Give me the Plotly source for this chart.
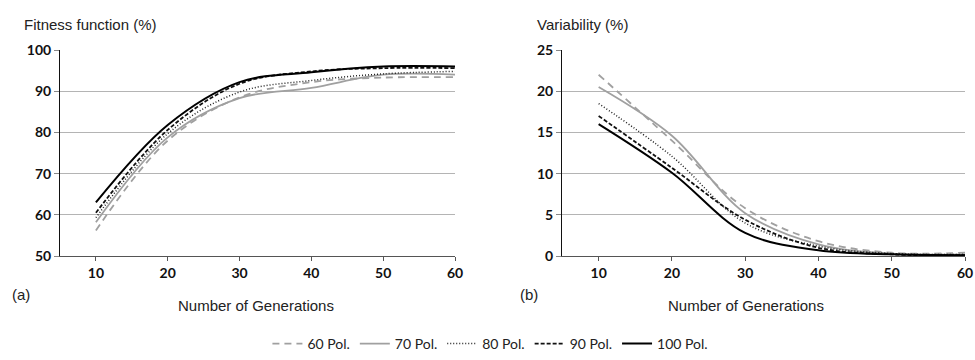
import plotly.graph_objects as go

generations = [10, 20, 30, 40, 50, 60]
series_names = ["60 Pol.", "70 Pol.", "80 Pol.", "90 Pol.", "100 Pol."]

fitness_60 = [56.2, 78.0, 88.5, 92.2, 93.3, 93.4]
fitness_70 = [58.2, 78.8, 88.3, 90.8, 94.0, 94.0]
fitness_80 = [59.3, 79.7, 89.8, 92.6, 94.2, 94.8]
fitness_90 = [60.5, 80.6, 91.8, 94.8, 95.6, 95.6]
fitness_100 = [63.0, 81.8, 92.2, 94.6, 96.0, 96.0]

variab_60 = [22.0, 14.0, 5.8, 1.8, 0.4, 0.4]
variab_70 = [20.5, 14.6, 5.2, 1.4, 0.3, 0.2]
variab_80 = [18.5, 12.1, 4.0, 1.2, 0.3, 0.2]
variab_90 = [17.0, 10.7, 4.4, 1.0, 0.2, 0.1]
variab_100 = [16.0, 10.1, 2.8, 0.7, 0.2, 0.1]

fitness = [fitness_60, fitness_70, fitness_80, fitness_90, fitness_100]
variab = [variab_60, variab_70, variab_80, variab_90, variab_100]

styles = [
    dict(color="#a0a0a0", width=1.8, dash="7px,5px"),
    dict(color="#a0a0a0", width=1.8, dash="solid"),
    dict(color="#222222", width=1.5, dash="1px,2px"),
    dict(color="#111111", width=1.8, dash="4px,2px"),
    dict(color="#000000", width=2.0, dash="solid"),
]

fig = go.Figure()
for name, ys, st in zip(series_names, fitness, styles):
    fig.add_trace(go.Scatter(x=generations, y=ys, mode="lines", name=name,
                             line=dict(shape="spline", smoothing=1.0, **st),
                             xaxis="x", yaxis="y", showlegend=True))
for name, ys, st in zip(series_names, variab, styles):
    fig.add_trace(go.Scatter(x=generations, y=ys, mode="lines", name=name,
                             line=dict(shape="spline", smoothing=1.0, **st),
                             xaxis="x2", yaxis="y2", showlegend=False))

W, H = 975, 360
ydom = [1 - 256 / H, 1 - 50 / H]
tickfont_b = dict(family="Lato, Open Sans, sans-serif", size=14, color="#111111", weight="bold")

common_x = dict(range=[5, 60], tickvals=[10, 20, 30, 40, 50, 60], showgrid=False,
                showline=True, linecolor="#555555", linewidth=1, ticks="outside",
                ticklen=4, tickcolor="#555555", tickfont=tickfont_b, zeroline=False,
                fixedrange=True, automargin=False)
common_y = dict(showgrid=True, gridcolor="#b4b4b4", gridwidth=1, showline=True,
                linecolor="#111111", linewidth=1, ticks="outside", ticklen=5,
                tickcolor="#888888", tickfont=tickfont_b, zeroline=False, fixedrange=True,
                automargin=False)

fig.update_layout(
    width=W, height=H, autosize=False,
    margin=dict(l=0, r=0, t=0, b=0, pad=0, autoexpand=False),
    paper_bgcolor="white", plot_bgcolor="white",
    xaxis=dict(domain=[60 / W, 455 / W], anchor="y", **common_x),
    yaxis=dict(domain=ydom, anchor="x", range=[50, 100], tickvals=[50, 60, 70, 80, 90, 100], **common_y),
    xaxis2=dict(domain=[562 / W, 965 / W], anchor="y2", **common_x),
    yaxis2=dict(domain=ydom, anchor="x2", range=[0, 25], tickvals=[0, 5, 10, 15, 20, 25], **common_y),
    legend=dict(orientation="h", x=0.503, xanchor="center", y=0.0, yanchor="bottom",
                font=dict(family="Lato, Open Sans, sans-serif", size=14, color="#222222"),
                itemwidth=30, tracegroupgap=0, bgcolor="rgba(0,0,0,0)"),
    showlegend=True,
)

txt = dict(family="Liberation Sans, Arial, sans-serif", size=15, color="#222222")
annos = [
    dict(text="Fitness function (%)", x=22 / W, y=1 - 25 / H),
    dict(text="Variability (%)", x=535 / W, y=1 - 25 / H),
    dict(text="(a)", x=10 / W, y=1 - 294 / H),
    dict(text="(b)", x=518 / W, y=1 - 294 / H),
]
for a in annos:
    fig.add_annotation(xref="paper", yref="paper", xanchor="left", yanchor="middle",
                       showarrow=False, font=txt, **a)
for cx, t in [(256 / W, "Number of Generations"), (746 / W, "Number of Generations")]:
    fig.add_annotation(xref="paper", yref="paper", x=cx, y=1 - 305 / H, xanchor="center",
                       yanchor="middle", showarrow=False, text=t, font=txt)

fig.write_html("out.html", config={"displayModeBar": False, "staticPlot": False},
               post_script="document.body.style.margin='0';document.body.style.overflow='hidden';")
